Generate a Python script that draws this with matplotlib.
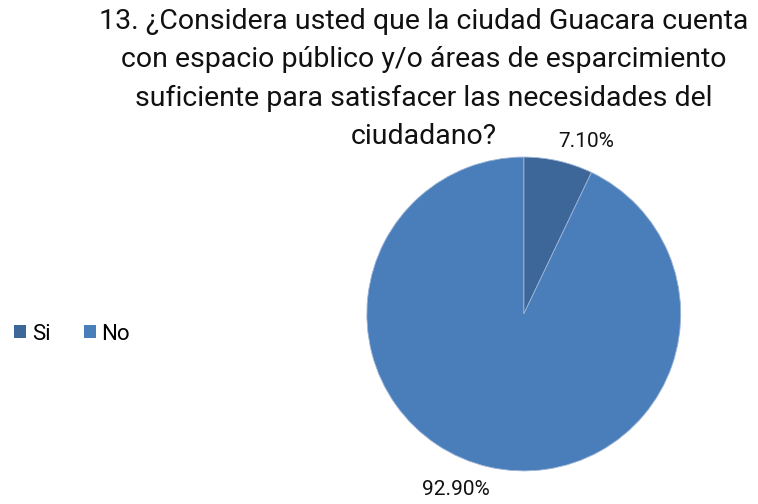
import matplotlib
matplotlib.use("Agg")
import matplotlib.pyplot as plt
from matplotlib.patches import Patch

categories = ["Si", "No"]
values = [7.10, 92.90]
colors = ["#3D6699", "#4A7EBB"]
title = ("13. ¿Considera usted que la ciudad Guacara cuenta\n"
         "con espacio público y/o áreas de esparcimiento\n"
         "suficiente para satisfacer las necesidades del\n"
         "ciudadano?")

plt.rcParams['font.family'] = ['Roboto', 'DejaVu Sans']

fig = plt.figure(figsize=(7.58, 5.04), dpi=100)
ax = fig.add_axes([0.484, 0.0655, 0.414, 0.623])
wedges, texts, autotexts = ax.pie(
    values, colors=colors, startangle=90, counterclock=False,
    autopct=lambda p: f"{p:.2f}%", pctdistance=1.18,
    wedgeprops=dict(edgecolor="#9DB5D6", linewidth=0.6),
    textprops=dict(fontsize=15, color="#111111"))
label_pos = [(0.395, 1.10), (-0.433, -1.12)]
for t, pos in zip(autotexts, label_pos):
    t.set_position(pos)
    t.set_ha("center")
    t.set_va("center")
ax.set_xlim(-1, 1)
ax.set_ylim(-1, 1)
ax.set_aspect("equal")

fig.text(0.559, 0.985, title, ha="center", va="top", fontsize=20.5,
         linespacing=1.55, color="#111111")

handles = [Patch(facecolor=c, edgecolor="none") for c in colors]
fig.legend(handles, categories, loc="center left", bbox_to_anchor=(-0.008, 0.337),
           ncol=2, frameon=False, fontsize=16, handlelength=0.55, handleheight=0.55,
           handletextpad=0.25, columnspacing=1.5)

fig.savefig("out.png", dpi=100)
